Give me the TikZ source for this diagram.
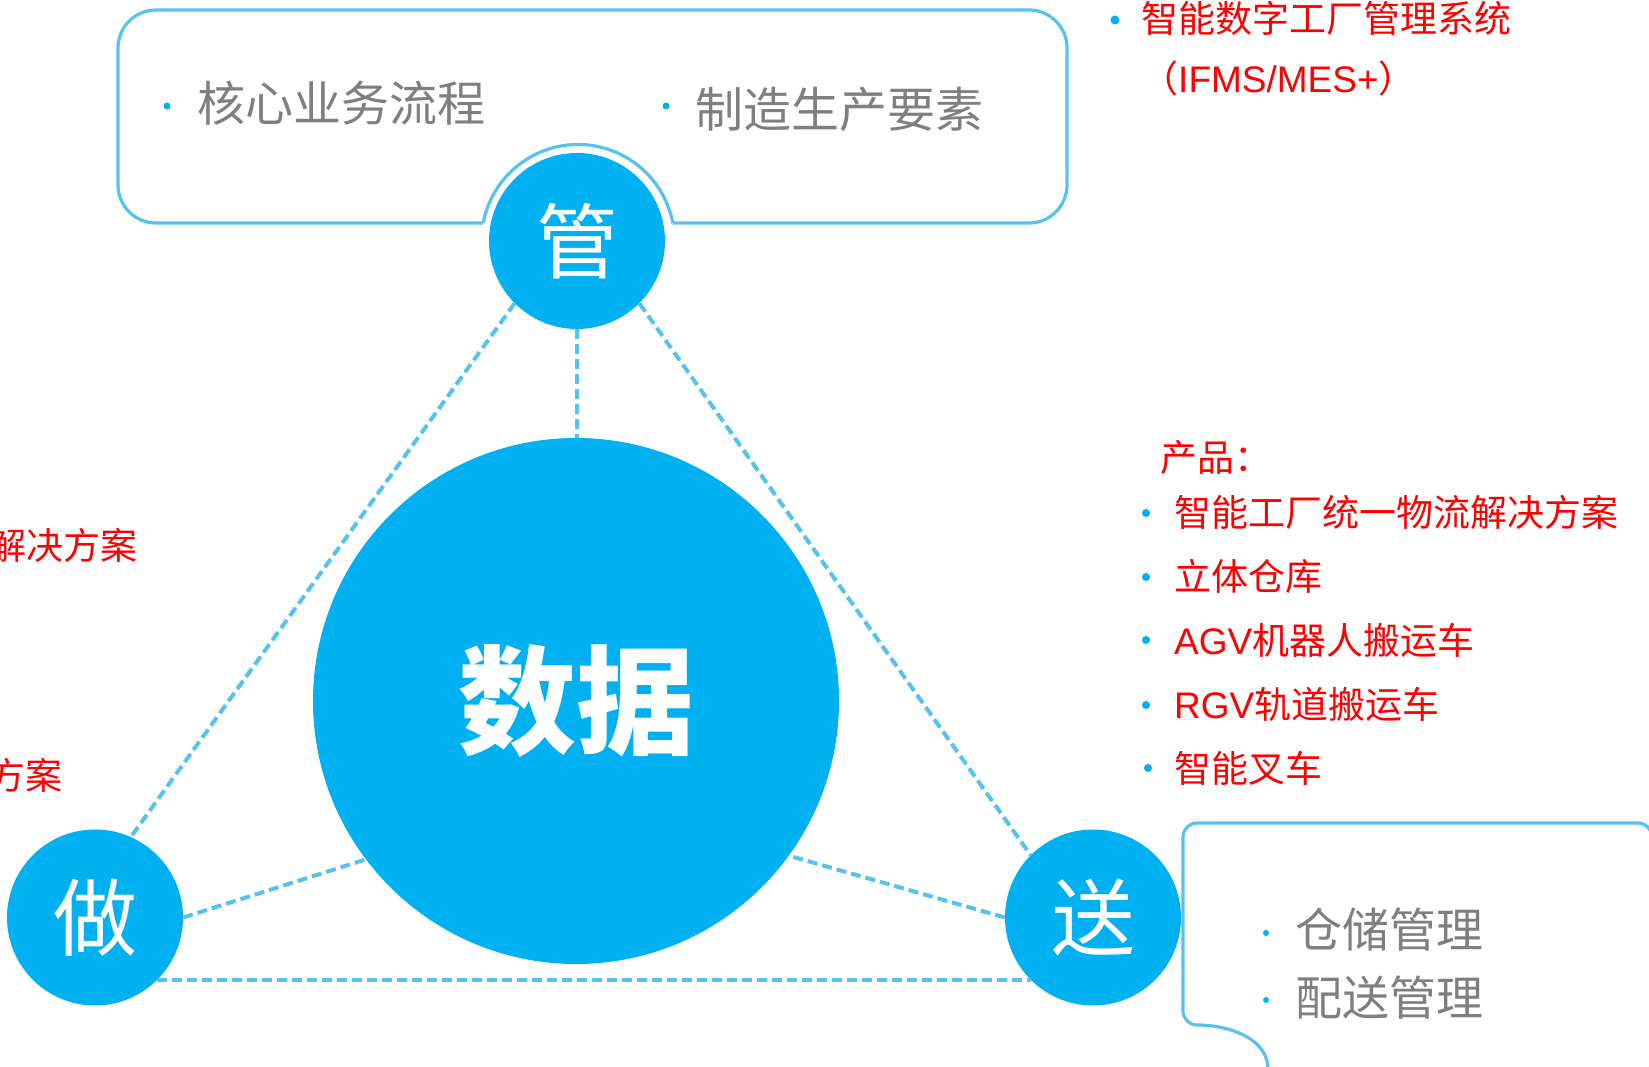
\documentclass[tikz,border=0pt]{standalone}
\usepackage{fontspec}
\setmainfont{Noto Sans CJK SC}
\newfontfamily\lat{Liberation Sans}
\definecolor{cblue}{HTML}{00B0F0}
\definecolor{lblue}{HTML}{56C2EE}
\definecolor{tgray}{HTML}{7F7F7F}
\definecolor{tred}{HTML}{FF0000}
\begin{document}
\begin{tikzpicture}[x=1pt,y=1pt,
  circ/.style={circle,fill=cblue,inner sep=0pt,text=white},
  conn/.style={draw=lblue,line width=4pt,dash pattern=on 10pt off 5pt},
  boxline/.style={draw=lblue,line width=3.2pt},
  bul/.style={circle,fill=cblue,inner sep=0pt,minimum size=7pt},
  graytxt/.style={text=tgray,font=\fontsize{48}{48}\selectfont,inner sep=0pt,anchor=west},
  redtxt/.style={text=tred,font=\fontsize{37}{37}\selectfont,inner sep=0pt,anchor=west},
]
\useasboundingbox (0,0) rectangle (1649,1067);

% top box with ring
\draw[boxline,rounded corners=38pt] (483.2,844) -- (118,844) -- (118,1057) -- (1067,1057) -- (1067,844) -- (672.8,844);
\draw[boxline] (483.2,844) arc[start angle=169.25,end angle=10.75,radius=96.5pt];

% bottom right callout box
\draw[boxline,rounded corners=14pt] (1268,-2) .. controls (1268,28) and (1230,42) .. (1183,42) -- (1183,244) -- (1652,244) -- (1652,-8) -- (1620,-8);

% circles
\node[circ,minimum size=176pt,font=\fontsize{82}{82}\selectfont] (g) at (577,826) {管};
\node[circ,minimum size=526pt,font=\fontsize{118}{118}\selectfont\bfseries] (d) at (576,366) {数据};
\node[circ,minimum size=176pt,font=\fontsize{84}{84}\selectfont] (z) at (95,149.5) {做};
\node[circ,minimum size=176pt,font=\fontsize{84}{84}\selectfont] (s) at (1093,149.5) {送};

% connectors
\draw[conn] (g.225) -- (z.66);
\draw[conn] (g.-45) -- (s.135);
\draw[conn] (z.-45) -- (s.-135);
\draw[conn] (g.south) -- (g.south |- d.north);
\draw[conn] (z.east) -- (d.217);
\draw[conn] (s.west) -- (d.-36);

% top box texts
\node[bul] (b1) at (167,961) {};
\node[graytxt] (t1) at (197,964) {核心业务流程};
\node[bul] (b2) at (666,961) {};
\node[graytxt] (t2) at (695,958) {制造生产要素};

% top right red
\node[bul,minimum size=9pt] (b3) at (1115,1047) {};
\node[redtxt] (t3) at (1141,1049) {智能数字工厂管理系统};
\node[redtxt] (t4) at (1141,989) {（{\lat IFMS/MES+}）};

% product list
\node[redtxt] (p0) at (1160,609) {产品：};
\node[bul,minimum size=8pt] (c1) at (1146,554) {};
\node[redtxt] (p1) at (1174,555) {智能工厂统一物流解决方案};
\node[bul,minimum size=8pt] (c2) at (1146,490) {};
\node[redtxt] (p2) at (1174,491) {立体仓库};
\node[bul,minimum size=8pt] (c3) at (1146,427) {};
\node[redtxt] (p3) at (1174,427) {{\lat AGV}机器人搬运车};
\node[bul,minimum size=8pt] (c4) at (1146,362) {};
\node[redtxt] (p4) at (1174,363) {{\lat RGV}轨道搬运车};
\node[bul,minimum size=8pt] (c5) at (1148,299) {};
\node[redtxt] (p5) at (1174,299) {智能叉车};

% left partial red texts (cut by the picture's edge, as in the reference)
\node[redtxt,anchor=east] (l1) at (138,522) {解决方案};
\node[redtxt,anchor=east] (l2) at (63,292) {方案};

% bottom right texts
\node[bul,minimum size=6pt] (d1) at (1266,134) {};
\node[graytxt,font=\fontsize{47}{47}\selectfont] (r1) at (1295,137) {仓储管理};
\node[bul,minimum size=6pt] (d2) at (1266,67) {};
\node[graytxt,font=\fontsize{47}{47}\selectfont] (r2) at (1295,69) {配送管理};
\end{tikzpicture}
\end{document}
